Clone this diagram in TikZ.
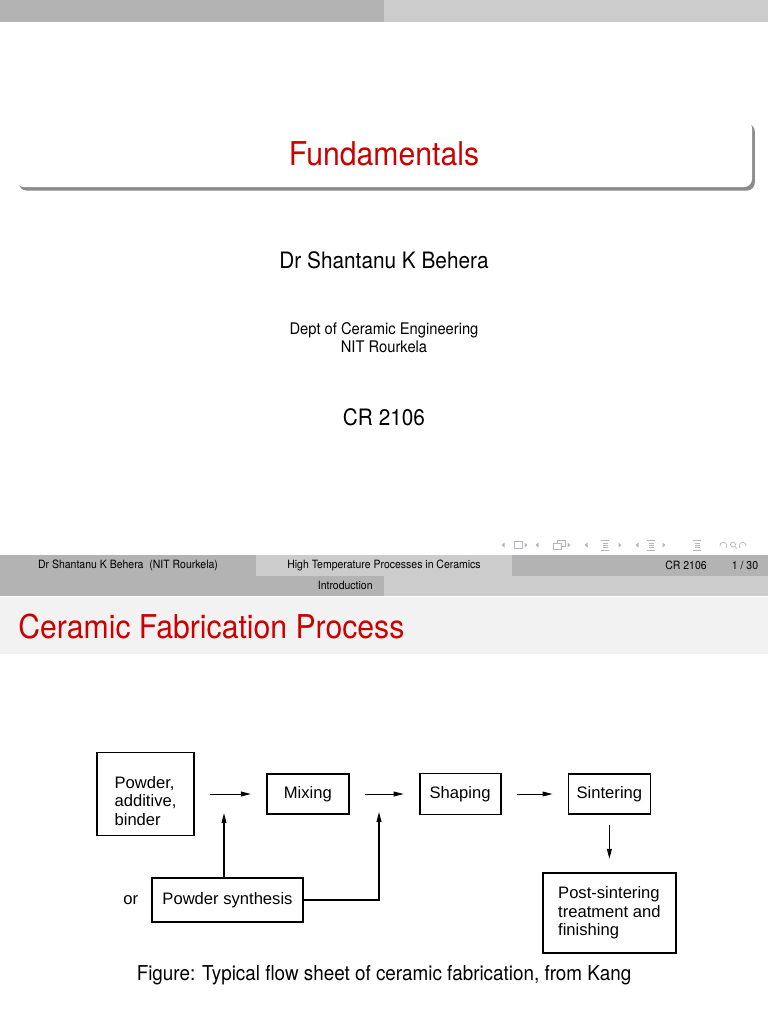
\documentclass[tikz,border=0pt]{standalone}
\usepackage{fontspec}
\setmainfont{TeX Gyre Heros}[FakeStretch=0.92]
\newfontfamily\figfont{Liberation Sans}
\usetikzlibrary{arrows.meta,positioning,calc,shadows}
\definecolor{slidered}{HTML}{CC0000}
\definecolor{bardark} {HTML}{B3B3B3}
\definecolor{barlight}{HTML}{CCCCCC}
\definecolor{titlebg} {HTML}{F2F2F2}
\definecolor{navgray} {HTML}{B4B4C4}
\tikzset{
  shadowy/.style={drop shadow={shadow xshift=1.4pt, shadow yshift=-1.8pt,
                               fill=black, opacity=0.45}},
  procbox/.style={
    rectangle, draw=black, line width=0.9pt, fill=white,
    font=\figfont\fontsize{8.3}{9.4}\selectfont, inner sep=2pt
  },
  procarrow/.style={
    -{Triangle[length=5pt, width=2.4pt]}, line width=0.5pt,
    shorten <=7.5pt, shorten >=7.5pt
  },
  feedarrow/.style={-{Triangle[length=5pt, width=2.4pt]}, line width=0.6pt},
  bartext/.style={font=\fontsize{5.7}{6.5}\selectfont, inner sep=0pt}
}

\begin{document}
\begin{tikzpicture}[x=0.5pt, y=0.5pt, node distance=35pt]
  \useasboundingbox (0,0) rectangle (768,-1024);
  % slide 1
  \fill[bardark]  (0,0)   rectangle (384,-22);
  \fill[barlight] (384,0) rectangle (768,-22);
  \node[fill=white, rounded corners=4pt, minimum width=368pt, minimum height=33.5pt,
        shadowy, text=slidered, font=\fontsize{16.4}{19}\selectfont] (title) at (384,-153.5) {Fundamentals};
  \node[font=\fontsize{11.3}{13}\selectfont] (author) at (384,-260) {Dr Shantanu K Behera};
  \node[font=\fontsize{8}{8.8}\selectfont, align=center] (inst) at (384,-337.5) {Dept of Ceramic Engineering\\NIT Rourkela};
  \node[font=\fontsize{11.3}{13}\selectfont] (date) at (384,-417) {CR 2106};
  % navigation symbols
  \begin{scope}[navgray, line width=0.35pt]
    \foreach \x in {503,537,586,637}
      \fill (\x+1.5,-542.5) -- (\x-1.5,-545) -- (\x+1.5,-547.5) -- cycle;
    \foreach \x in {526,569,620,664}
      \fill (\x-1.5,-542.5) -- (\x+1.5,-545) -- (\x-1.5,-547.5) -- cycle;
    \draw (514,-541.5) rectangle (522,-548.5);
    \draw (557,-540) rectangle (565,-546);
    \draw[fill=white] (553,-543) rectangle (561,-549);
    \foreach \x in {605,651,697} {
      \draw (\x-4,-540) -- (\x+4,-540);
      \draw (\x-4,-550) -- (\x+4,-550);
      \foreach \y in {-543,-545,-547}
        \draw (\x-2.5,\y) -- (\x+2.5,\y);
    }
    \draw (726,-548) arc[start angle=-40, end angle=190, radius=3.5];
    \draw (733,-544.5) circle[radius=2.5];
    \draw (734.8,-546.3) -- (737,-548.5);
    \draw (740,-548) arc[start angle=220, end angle=-10, radius=3.5];
  \end{scope}
  % footline
  \fill[bardark]  (0,-555)   rectangle (256,-576);
  \fill[barlight] (256,-555) rectangle (512,-576);
  \fill[bardark]  (512,-555) rectangle (768,-576);
  \node[bartext] (foota) at (128,-565) {Dr Shantanu K Behera\ \ (NIT Rourkela)};
  \node[bartext] (footb) at (384,-565) {High Temperature Processes in Ceramics};
  \node[bartext] (footc) at (686,-565) {CR 2106};
  \node[bartext] (footd) at (745,-565) {1 / 30};
  % slide 2
  \fill[bardark]  (0,-576)   rectangle (384,-596);
  \fill[barlight] (384,-576) rectangle (768,-596);
  \node[bartext, anchor=east] (sect) at (373,-585) {Introduction};
  \fill[titlebg] (0,-597) rectangle (768,-654);
  \node[anchor=west, inner sep=0pt, text=slidered, font=\fontsize{16.4}{19}\selectfont] (ftitle) at (18,-627) {Ceramic Fabrication Process};
  % flow sheet
  \node[procbox, minimum width=48.5pt, minimum height=41.5pt, align=left] (powder) at (145.5,-794) {\rule{0pt}{13pt}Powder,\\additive,\\binder};
  \node[procbox, minimum width=41pt, minimum height=20pt, right=35.5pt of powder] (mixing) {Mixing};
  \node[procbox, minimum width=40.5pt, minimum height=20.5pt, right=34.5pt of mixing] (shaping) {Shaping};
  \node[procbox, minimum width=41pt, minimum height=20pt, right=33pt of shaping] (sintering) {Sintering};
  \node[procbox, minimum width=66.5pt, minimum height=40pt, align=left, below=28.5pt of sintering] (post) {Post-sintering\\treatment and\\finishing};
  \node[procbox, minimum width=75.5pt, minimum height=22pt] (synth) at (227.5,-900) {Powder synthesis};
  \node[font=\figfont\fontsize{8.3}{9.4}\selectfont, left=3pt of synth] (or) {or};
  \coordinate (feedA) at (224,-813);
  \coordinate (feedB) at (379,-812);
  \draw[procarrow] (powder) -- (mixing);
  \draw[procarrow] (mixing) -- (shaping);
  \draw[procarrow] (shaping) -- (sintering);
  \draw[procarrow, shorten <=5pt, shorten >=6.5pt] (sintering) -- (post);
  \draw[feedarrow] (synth.north -| feedA) -- (feedA);
  \draw[feedarrow] (synth.east) -| (feedB);
  \node[font=\fontsize{10.25}{12}\selectfont] (caption) at (384,-975) {Figure: Typical flow sheet of ceramic fabrication, from Kang};
\end{tikzpicture}
\end{document}
